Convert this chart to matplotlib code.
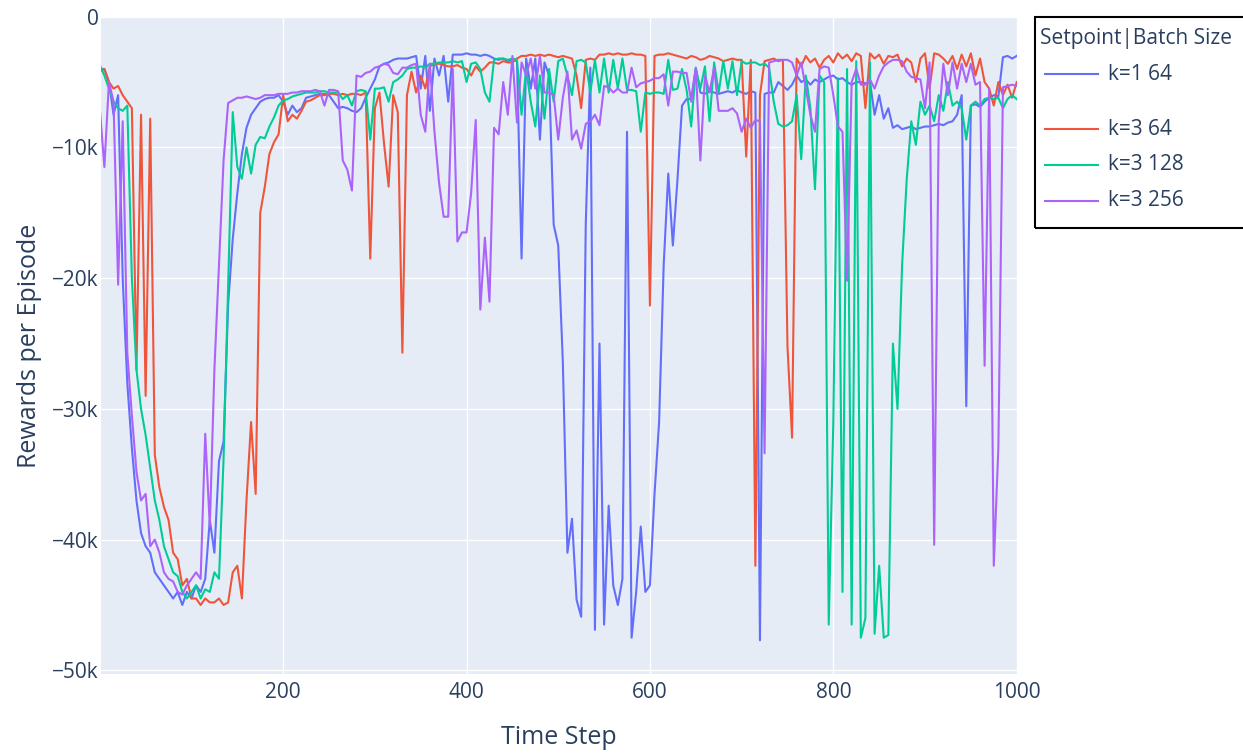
import matplotlib
matplotlib.use("Agg")
import matplotlib.pyplot as plt
from matplotlib.lines import Line2D
from matplotlib.patches import Rectangle

plt.rcParams['font.family'] = ['Open Sans', 'DejaVu Sans']

# time steps (every 5th step)
steps = list(range(0, 1001, 5))

# rewards per episode, in thousands
k1_b64 = [
    -4.0, -4.0, -5.0, -7.5, -6.0, -20.0, -28.0, -33.0, -37.0, -39.5,
    -40.5, -41.0, -42.5, -43.0, -43.5, -44.0, -44.5, -44.0, -45.0, -44.0,
    -44.5, -43.5, -44.0, -43.0, -38.5, -41.0, -34.0, -32.5, -22.0, -17.0,
    -13.5, -10.5, -8.5, -7.5, -7.0, -6.5, -6.3, -6.2, -6.2, -6.0,
    -6.5, -7.5, -6.8, -7.3, -7.0, -6.2, -6.1, -6.0, -5.9, -5.9,
    -6.0, -6.5, -7.0, -6.9, -7.0, -7.2, -7.3, -7.0, -6.2, -5.5,
    -4.8, -3.8, -3.6, -3.5, -3.3, -3.2, -3.2, -3.2, -3.1, -3.0,
    -5.5, -3.0, -7.2, -3.2, -4.5, -3.0, -6.5, -2.9, -2.9, -2.9,
    -2.8, -2.9, -2.9, -3.0, -2.9, -3.0, -3.2, -3.3, -3.2, -3.4,
    -3.3, -3.4, -18.5, -3.2, -5.5, -3.2, -9.4, -3.5, -4.5, -15.9,
    -17.5, -26.4, -41.0, -38.4, -44.6, -45.9, -15.9, -3.9, -46.9, -25.0,
    -46.5, -37.4, -43.5, -45.0, -43.0, -8.8, -47.5, -44.0, -39.0, -44.0,
    -43.5, -36.5, -31.0, -19.0, -12.0, -17.5, -12.5, -6.8, -6.3, -6.3,
    -3.9, -5.8, -5.9, -5.7, -5.8, -5.9, -5.8, -5.7, -5.8, -5.6,
    -5.8, -5.9, -5.7, -5.8, -47.7, -5.9, -5.8, -5.8, -5.0, -5.3,
    -5.6, -5.2, -4.5, -5.0, -4.8, -5.2, -4.8, -5.0, -4.8, -4.6,
    -4.5, -4.8, -4.7, -5.0, -5.2, -5.0, -5.0, -5.1, -5.0, -7.5,
    -6.0, -7.8, -7.0, -8.5, -8.3, -8.6, -8.5, -8.4, -8.6, -8.5,
    -8.4, -8.4, -8.3, -8.2, -8.3, -8.1, -8.0, -7.5, -6.0, -29.8,
    -6.8, -6.7, -6.9, -6.5, -6.2, -6.0, -6.1, -3.1, -3.0, -3.2,
    -3.0,
]

k3_b64 = [
    -4.2, -4.0, -5.0, -5.5, -5.3, -6.0, -6.5, -7.0, -27.0, -7.5,
    -29.0, -7.8, -33.5, -36.0, -37.5, -38.5, -41.0, -41.5, -43.5, -43.0,
    -44.5, -44.5, -45.0, -44.5, -44.8, -44.8, -44.5, -45.0, -44.8, -42.5,
    -42.0, -44.5, -37.0, -31.0, -36.5, -15.0, -13.0, -10.5, -9.6, -9.0,
    -6.0, -8.0, -7.5, -7.8, -7.2, -6.5, -6.4, -6.2, -6.0, -6.0,
    -5.9, -5.9, -6.0, -5.9, -6.0, -5.9, -5.9, -6.0, -5.8, -18.5,
    -7.0, -5.8, -9.7, -13.0, -6.0, -7.3, -25.7, -6.0, -4.2, -5.8,
    -4.5, -5.5, -3.8, -3.6, -3.6, -3.7, -3.8, -3.8, -3.7, -3.9,
    -4.0, -4.5, -3.8, -4.2, -3.9, -3.5, -3.5, -3.6, -3.4, -3.5,
    -3.5, -3.2, -3.0, -3.0, -2.9, -3.0, -2.9, -3.0, -2.9, -3.0,
    -3.1, -3.0, -3.1, -3.2, -4.5, -7.0, -3.3, -3.2, -3.3, -2.9,
    -2.9, -2.8, -2.9, -2.8, -2.9, -2.9, -2.8, -2.9, -2.9, -3.0,
    -22.1, -3.0, -2.9, -2.9, -2.8, -2.9, -3.0, -3.1, -3.2, -3.0,
    -3.1, -3.3, -3.2, -3.0, -3.1, -3.2, -3.4, -3.3, -3.2, -3.3,
    -3.3, -10.7, -3.3, -42.0, -6.0, -3.4, -3.3, -3.2, -3.4, -3.3,
    -25.2, -32.2, -3.2, -3.8, -3.0, -3.5, -3.2, -3.9, -3.3, -3.0,
    -3.5, -2.8, -3.2, -2.9, -3.4, -2.8, -3.0, -7.0, -2.8, -3.2,
    -2.9, -3.6, -3.0, -3.1, -2.9, -3.8, -3.2, -3.5, -5.0, -3.2,
    -2.8, -5.5, -2.8, -2.9, -3.2, -3.6, -3.0, -4.0, -2.9, -3.8,
    -2.8, -4.5, -3.2, -5.0, -5.5, -6.8, -5.0, -6.0, -5.2, -6.2,
    -5.0,
]

k3_b128 = [
    -3.7, -4.5, -5.5, -6.5, -7.0, -7.2, -6.8, -20.0, -27.0, -30.0,
    -32.0, -34.5, -37.0, -38.5, -40.5, -41.5, -42.5, -42.8, -44.0, -44.5,
    -44.0, -43.5, -44.5, -43.8, -44.0, -42.5, -43.0, -33.8, -20.5, -7.3,
    -11.5, -12.4, -10.0, -12.0, -9.8, -9.2, -9.3, -8.4, -7.7, -6.8,
    -6.4, -6.3, -6.1, -6.0, -5.9, -5.8, -5.8, -5.8, -5.7, -5.7,
    -5.8, -5.8, -5.8, -6.3, -6.0, -6.8, -5.7, -5.6, -5.7, -9.4,
    -5.5, -5.5, -5.4, -6.5, -5.0, -4.8, -4.5, -4.0, -3.9, -3.9,
    -3.8, -3.9, -3.6, -3.6, -3.5, -3.5, -3.5, -3.4, -3.5, -3.4,
    -5.0, -3.6, -3.5, -4.0, -5.8, -6.5, -3.3, -3.2, -3.2, -3.3,
    -3.2, -3.3, -7.5, -4.0, -6.5, -8.4, -4.5, -7.8, -4.0, -6.5,
    -3.4, -3.2, -4.5, -6.0, -3.4, -3.3, -3.5, -5.8, -3.3, -5.8,
    -3.2, -5.8, -3.3, -5.5, -3.2, -5.6, -5.6, -5.7, -8.8, -5.8,
    -5.9, -5.8, -5.8, -5.9, -3.3, -5.6, -5.5, -4.0, -5.6, -8.4,
    -4.0, -5.5, -3.8, -8.0, -3.5, -5.8, -3.4, -5.5, -3.4, -6.0,
    -3.4, -3.6, -3.5, -3.5, -3.7, -3.6, -3.9, -6.5, -8.2, -8.4,
    -8.3, -8.0, -6.0, -10.9, -4.5, -7.0, -13.2, -4.5, -5.0, -46.5,
    -31.0, -4.7, -44.0, -4.0, -46.5, -3.4, -47.5, -46.0, -3.5, -47.2,
    -42.0, -47.5, -47.3, -25.0, -30.0, -19.0, -12.5, -8.0, -9.8, -6.5,
    -7.5, -6.8, -8.0, -6.0, -7.2, -5.0, -6.8, -6.5, -7.0, -9.4,
    -6.8, -6.5, -6.8, -6.3, -6.2, -6.3, -6.2, -7.0, -6.3, -6.0,
    -6.3,
]

k3_b256 = [
    -7.0, -11.5, -5.0, -6.5, -20.5, -8.0, -25.7, -30.5, -34.8, -37.0,
    -36.5, -40.5, -40.0, -41.0, -42.5, -43.0, -43.2, -44.0, -44.2, -43.5,
    -43.0, -42.5, -43.0, -31.9, -39.0, -27.0, -19.0, -11.0, -6.6, -6.4,
    -6.2, -6.2, -6.1, -6.2, -6.3, -6.2, -6.0, -6.0, -6.0, -5.9,
    -5.9, -5.9, -5.8, -5.8, -5.7, -5.7, -5.7, -5.6, -5.7, -6.8,
    -5.6, -5.6, -5.7, -11.0, -11.7, -13.3, -4.5, -4.6, -4.3, -4.2,
    -3.9, -3.8, -3.6, -3.7, -4.3, -4.4, -3.9, -3.9, -3.7, -3.6,
    -7.5, -8.8, -3.6, -8.8, -12.7, -15.3, -15.3, -4.0, -17.2, -16.5,
    -16.5, -13.5, -7.9, -22.4, -16.9, -21.8, -8.5, -9.0, -5.0, -7.5,
    -3.0, -8.1, -3.5, -4.5, -3.2, -5.5, -3.0, -5.8, -5.8, -6.0,
    -9.4, -6.2, -4.2, -9.4, -8.7, -10.1, -8.2, -8.0, -7.5, -8.3,
    -5.3, -5.4, -5.8, -5.5, -5.8, -5.8, -3.9, -5.4, -5.1, -5.0,
    -4.9, -4.7, -4.7, -4.4, -6.8, -4.2, -4.2, -4.3, -4.3, -6.5,
    -4.0, -11.0, -4.5, -5.8, -3.9, -7.2, -7.2, -7.2, -7.0, -7.4,
    -8.8, -7.8, -8.5, -7.9, -8.0, -33.4, -3.5, -3.4, -3.3, -3.3,
    -3.3, -3.5, -4.5, -3.5, -5.5, -7.5, -8.8, -4.0, -3.8, -3.9,
    -6.0, -8.4, -8.8, -20.2, -5.0, -4.0, -5.2, -5.2, -4.8, -5.5,
    -4.5, -3.8, -3.5, -3.3, -3.3, -3.4, -4.2, -4.6, -4.7, -4.8,
    -7.0, -3.5, -40.4, -8.0, -3.6, -6.0, -3.5, -5.5, -3.6, -5.0,
    -3.6, -5.2, -5.0, -26.7, -5.5, -42.0, -33.0, -5.4, -5.3, -5.2,
    -5.3,
]

series_names = ["k=1 64", "k=3 64", "k=3 128", "k=3 256"]
series_values = [k1_b64, k3_b64, k3_b128, k3_b256]
colors = ["#636EFA", "#EF553B", "#00CC96", "#AB63FA"]

x_ticks = [200, 400, 600, 800, 1000]
y_ticks = [0, -10, -20, -30, -40, -50]
y_tick_labels = ["0", "\u221210k", "\u221220k", "\u221230k", "\u221240k", "\u221250k"]

TEXT = "#2a3f5f"
W, H = 1243, 755


def fx(px):
    return px / W


def fy(py):
    return 1 - py / H


fig = plt.figure(figsize=(W / 100, H / 100), dpi=100)
ax = fig.add_axes([fx(100.7), fy(674.3), (1016.7 - 100.7) / W, (674.3 - 16.7) / H])
ax.set_facecolor("#E5ECF6")

for name, vals, c in zip(series_names, series_values, colors):
    ax.plot(steps, vals, color=c, lw=1.5, label=name)

ax.set_xlim(1, 1000)
ax.set_ylim(-50.3, 0)
ax.set_xticks(x_ticks)
ax.set_yticks(y_ticks)
ax.set_yticklabels(y_tick_labels)
ax.grid(color="white", lw=1)
ax.set_axisbelow(True)
for s in ax.spines.values():
    s.set_visible(False)
ax.tick_params(axis="both", length=0, labelsize=15, colors=TEXT)
ax.tick_params(axis="x", pad=5.5)
ax.tick_params(axis="y", pad=1.5)

ax.set_xlabel("Time Step", fontsize=18, color=TEXT, va="center")
ax.xaxis.set_label_coords(0.5, (674.3 - 738) / 657.6)
ax.set_ylabel("Rewards per Episode", fontsize=18, color=TEXT, va="center")
ax.yaxis.set_label_coords((30 - 100.7) / 916, 0.5)

# legend box drawn by hand (plotly style, with a gap after the first group)
fig.add_artist(Rectangle((fx(1035), fy(228.3)), fx(1260) - fx(1035), (228.3 - 16.5) / H,
                         transform=fig.transFigure, fill=False, edgecolor="black", lw=1.5))
fig.text(fx(1040), fy(38.3), "Setpoint|Batch Size", fontsize=15, color=TEXT,
         ha="left", va="center")
legend_rows = [74.3, 129.3, 165.0, 200.7]
for name, c, py in zip(series_names, colors, legend_rows):
    fig.add_artist(Line2D([fx(1045), fx(1098)], [fy(py), fy(py)], color=c, lw=1.5,
                          transform=fig.transFigure))
    fig.text(fx(1108), fy(py), name, fontsize=15, color=TEXT, ha="left", va="center")

fig.savefig("out.png", dpi=100)
